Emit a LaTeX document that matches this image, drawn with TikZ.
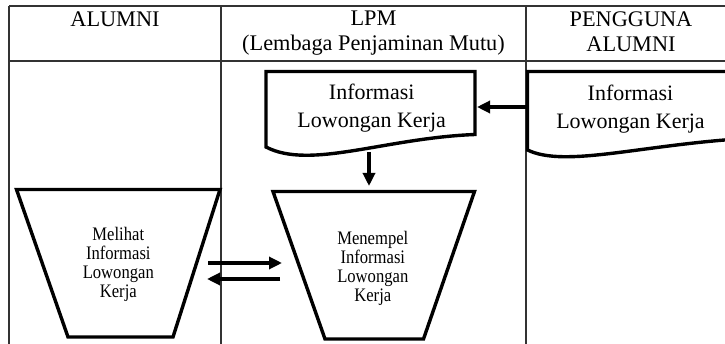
\documentclass[tikz,border=0pt]{standalone}
\usepackage{fontspec}
\setmainfont{Liberation Serif}
\usetikzlibrary{arrows.meta}
\newcommand{\tall}[1]{\scalebox{1}[1.15]{#1}}
\begin{document}
\begin{tikzpicture}[x=1pt,y=-1pt,
  grid/.style={line width=1.2pt, draw=black!80},
  shapeline/.style={line width=3.4pt, line join=miter},
  flow/.style={line width=3.2pt, -{Triangle[length=13pt,width=12pt]}},
  hdr/.style={font=\fontsize{22.3}{24.5}\selectfont, align=center, inner sep=0pt},
  doctext/.style={font=\fontsize{22}{28.4}\selectfont, align=center, inner sep=0pt},
  traptext/.style={font=\fontsize{16.6}{19.2}\selectfont, align=center, inner sep=0pt}]
\clip (0,0) rectangle (725,344);
% table
\draw[grid] (9,6) -- (725,6);
\draw[grid] (9,61) -- (725,61);
\draw[grid] (9,6) -- (9,344);
\draw[grid] (221,6) -- (221,344);
\draw[grid] (526,6) -- (526,344);
% headers
\node[hdr, anchor=base] (hA) at (115,26.7) {ALUMNI};
\node[hdr] (hL) at (373.5,33.3) {LPM\\(Lembaga Penjaminan Mutu)};
\node[hdr] (hP) at (631,31.8) {PENGGUNA\\ALUMNI};
% LPM document
\draw[shapeline] (266,71.5) -- (475,71.5) -- (475,134.5)
  .. controls (385,138) and (310,170) .. (266,147) -- cycle;
\node[doctext] (lpmDoc) at (371.7,108.4) {Informasi\\Lowongan Kerja};
\coordinate (lpmDocR) at (477,107);
\coordinate (lpmDocB) at (369,152);
% Pengguna document
\draw[shapeline] (745,71.5) -- (527.5,71.5) -- (527.5,150)
  .. controls (565,168) and (640,145) .. (745,138.5);
\node[doctext] (pgDoc) at (630.5,109) {Informasi\\Lowongan Kerja};
\coordinate (pgDocL) at (527.5,107);
% trapezoids
\draw[shapeline] (16.5,189.5) -- (220,189.5) -- (173,337) -- (68,337) -- cycle;
\node[traptext] (melihat) at (118.3,264.5) {\tall{Melihat}\\\tall{Informasi}\\\tall{Lowongan}\\\tall{Kerja}};
\draw[shapeline] (273,191.5) -- (474.5,191.5) -- (423.5,339) -- (325,339) -- cycle;
\node[traptext] (menempel) at (372.8,268.5) {\tall{Menempel}\\\tall{Informasi}\\\tall{Lowongan}\\\tall{Kerja}};
\coordinate (trapRtop) at (369,186);
\coordinate (a1s) at (208,263);
\coordinate (a1e) at (282,263);
\coordinate (a2s) at (280,279);
\coordinate (a2e) at (207,279);
% connectors
\draw[flow] (pgDocL) -- (lpmDocR);
\draw[flow] (lpmDocB) -- (trapRtop);
\draw[flow] (a1s) -- (a1e);
\draw[flow] (a2s) -- (a2e);
\end{tikzpicture}
\end{document}
